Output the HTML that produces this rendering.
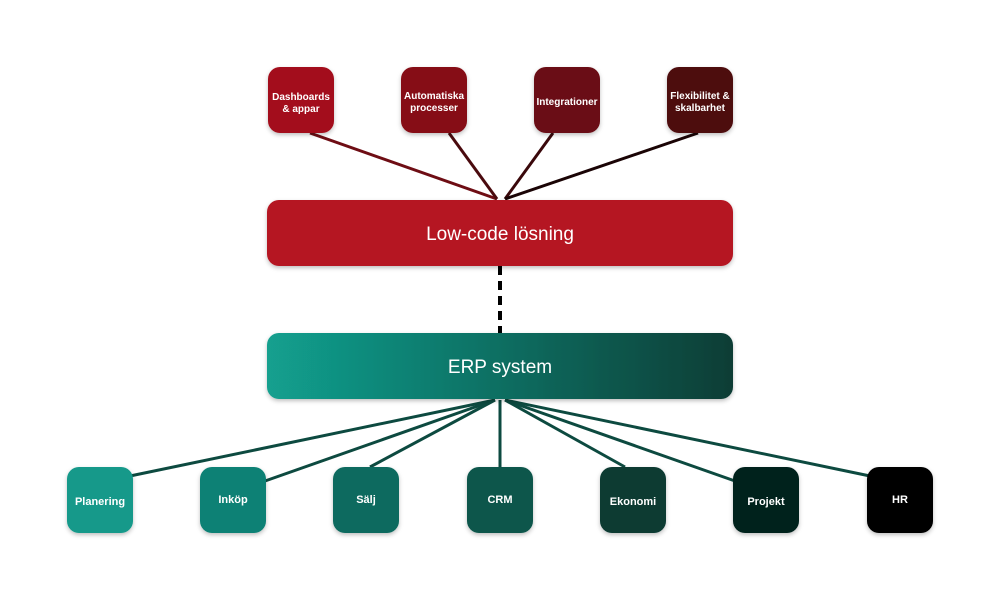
<!DOCTYPE html>
<html><head><meta charset="utf-8"><style>
body{margin:0;background:#fff;}
svg text{font-family:"Liberation Sans",sans-serif;font-weight:bold;fill:#fff;text-anchor:middle;}
</style></head><body>
<svg width="1000" height="600" viewBox="0 0 1000 600" xmlns="http://www.w3.org/2000/svg">
<defs>
<linearGradient id="erp" x1="0" x2="1" y1="0" y2="0"><stop offset="0" stop-color="#12a08f"/><stop offset="1" stop-color="#0b3d35"/></linearGradient>
<filter id="sh" x="-20%" y="-20%" width="140%" height="150%"><feDropShadow dx="0" dy="2" stdDeviation="2" flood-opacity="0.25"/></filter>
</defs>
<g stroke-width="3" fill="none">
<line x1="310" y1="133" x2="497" y2="199" stroke="#6e0d14"/>
<line x1="449" y1="133" x2="497" y2="199" stroke="#4a0a0e"/>
<line x1="553" y1="133" x2="505" y2="199" stroke="#3a080b"/>
<line x1="698" y1="133" x2="505" y2="199" stroke="#1a0405"/>
<line x1="500" y1="266" x2="500" y2="333" stroke="#000" stroke-width="4" stroke-dasharray="9,6"/>
<g stroke="#0d4a40">
<line x1="495" y1="400" x2="130" y2="476"/>
<line x1="495" y1="400" x2="265" y2="481"/>
<line x1="495" y1="400" x2="370" y2="467"/>
<line x1="500" y1="400" x2="500" y2="467"/>
<line x1="505" y1="400" x2="625" y2="467"/>
<line x1="505" y1="400" x2="735" y2="481"/>
<line x1="505" y1="400" x2="870" y2="476"/>
</g>
</g>
<g filter="url(#sh)">
<rect x="268" y="67" width="66" height="66" rx="12" fill="#a3111b"/>
<rect x="401" y="67" width="66" height="66" rx="12" fill="#860e16"/>
<rect x="534" y="67" width="66" height="66" rx="12" fill="#6a0b12"/>
<rect x="667" y="67" width="66" height="66" rx="12" fill="#4e080d"/>
<rect x="267" y="200" width="466" height="66" rx="12" fill="#b51421"/>
<rect x="267" y="333" width="466" height="66" rx="12" fill="url(#erp)"/>
<rect x="67" y="467" width="66" height="66" rx="12" fill="#13998a"/>
<rect x="200" y="467" width="66" height="66" rx="12" fill="#118174"/>
<rect x="333" y="467" width="66" height="66" rx="12" fill="#0e6a5e"/>
<rect x="467" y="467" width="66" height="66" rx="12" fill="#0b564b"/>
<rect x="600" y="467" width="66" height="66" rx="12" fill="#083a33"/>
<rect x="733" y="467" width="66" height="66" rx="12" fill="#05231e"/>
<rect x="867" y="467" width="66" height="66" rx="12" fill="#050505"/>
</g>
<g font-size="10">
<text x="301" y="100">Dashboards</text><text x="301" y="112">&amp; appar</text>
<text x="434" y="99">Automatiska</text><text x="434" y="111">processer</text>
<text x="567" y="105">Integrationer</text>
<text x="700" y="99">Flexibilitet &amp;</text><text x="700" y="111">skalbarhet</text>
</g>
<text x="500" y="240" font-size="19" style="font-weight:normal">Low-code lösning</text>
<text x="500" y="373" font-size="19" style="font-weight:normal">ERP system</text>
<g font-size="11">
<text x="100" y="505">Planering</text>
<text x="233" y="503">Inköp</text>
<text x="366" y="503">Sälj</text>
<text x="500" y="503">CRM</text>
<text x="633" y="505">Ekonomi</text>
<text x="766" y="505">Projekt</text>
<text x="900" y="503">HR</text>
</g>
</svg>
</body></html>
